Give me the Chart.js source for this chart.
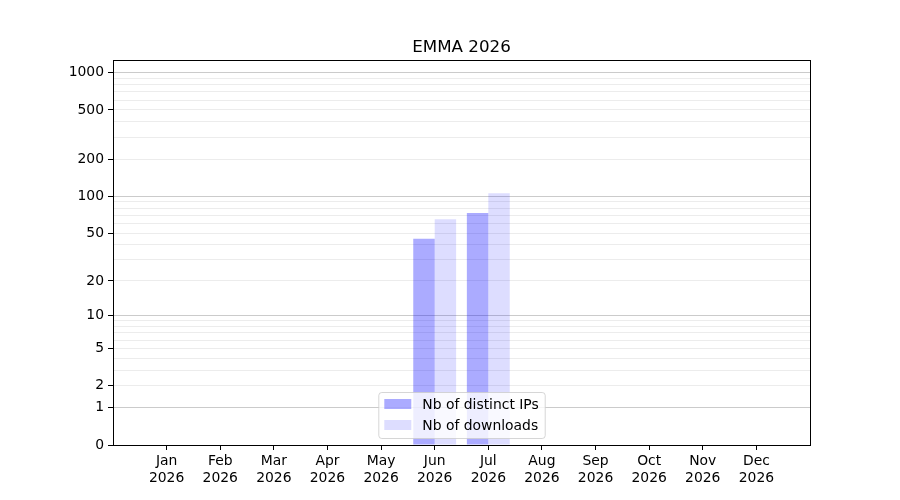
<!DOCTYPE html>
<html>
<head>
<meta charset="utf-8">
<script src="https://cdn.jsdelivr.net/npm/chart.js@4"></script>
<style>
  html, body { margin: 0; padding: 0; background: #fff; }
  #wrap { width: 900px; height: 500px; }
</style>
</head>
<body>
<div id="wrap"><canvas id="myChart" width="900" height="500"></canvas></div>
<script>
const chartTitle = "EMMA 2026";
const months = ["Jan", "Feb", "Mar", "Apr", "May", "Jun", "Jul", "Aug", "Sep", "Oct", "Nov", "Dec"];
const yearLabel = "2026";
const distinctIPs = [0, 0, 0, 0, 0, 45, 73, 0, 0, 0, 0, 0];
const downloads = [0, 0, 0, 0, 0, 65, 106, 0, 0, 0, 0, 0];
const seriesNames = ["Nb of distinct IPs", "Nb of downloads"];
const seriesColors = ["rgba(0, 0, 255, 0.33)", "rgba(0, 0, 255, 0.135)"];
const labeledTicks = [0, 1, 2, 5, 10, 20, 50, 100, 200, 500, 1000];
const decadeTicks = [1, 10, 100, 1000];
const minorTicks = [3, 4, 6, 7, 8, 9, 30, 40, 60, 70, 80, 90, 300, 400, 600, 700, 800, 900];
const yTop = 1265;

const FONT = "'DejaVu Sans', sans-serif";
// y axis works like matplotlib's log(1 + n) scale
const tr = (v) => Math.log10(1 + v);
const allYTicks = [...labeledTicks, ...minorTicks].sort((a, b) => a - b);

const toPoints = (arr) => arr.map((v, i) => ({ x: i, y: tr(v) }));

const frameAndLegend = {
  id: "frameAndLegend",
  afterDraw(chart) {
    const ctx = chart.ctx;
    const a = chart.chartArea;
    ctx.save();
    // axes box
    ctx.strokeStyle = "#000";
    ctx.lineWidth = 1;
    ctx.strokeRect(Math.round(a.left) + 0.5, Math.round(a.top) + 0.5,
      Math.round(a.right - a.left), Math.round(a.bottom - a.top));

    // title
    ctx.fillStyle = "#000";
    ctx.font = "16.7px " + FONT;
    ctx.textAlign = "center";
    ctx.textBaseline = "alphabetic";
    ctx.fillText(chartTitle, (a.left + a.right) / 2, a.top - 8.5);

    // legend, lower centre inside the axes
    ctx.font = "13.9px " + FONT;
    const widths = seriesNames.map((s) => ctx.measureText(s).width);
    const boxW = 44 + Math.max(...widths) + 6;
    const boxH = 46;
    const bx = (a.left + a.right) / 2 - boxW / 2;
    const by = a.bottom - 7 - boxH;
    ctx.beginPath();
    ctx.roundRect(bx + 0.5, by + 0.5, boxW, boxH, 3);
    ctx.fillStyle = "rgba(255,255,255,0.8)";
    ctx.fill();
    ctx.strokeStyle = "rgba(204,204,204,0.8)";
    ctx.stroke();
    chart.data.datasets.forEach((ds, i) => {
      const cy = by + 12 + i * 21;
      ctx.fillStyle = ds.backgroundColor;
      ctx.fillRect(bx + 6, cy - 5, 27, 10);
      ctx.fillStyle = "#000";
      ctx.textAlign = "left";
      ctx.textBaseline = "middle";
      ctx.fillText(ds.label, bx + 44, cy + 1);
    });
    ctx.restore();
  },
};

const myChart = new Chart(document.getElementById("myChart"), {
  type: "bar",
  data: {
    datasets: [
      {
        label: seriesNames[0],
        data: toPoints(distinctIPs),
        backgroundColor: seriesColors[0],
        borderWidth: 0,
      },
      {
        label: seriesNames[1],
        data: toPoints(downloads),
        backgroundColor: seriesColors[1],
        borderWidth: 0,
      },
    ],
  },
  options: {
    responsive: false,
    animation: false,
    devicePixelRatio: 1,
    layout: { padding: { top: 60, right: 90, left: 0, bottom: 0 } },
    datasets: { bar: { categoryPercentage: 0.8, barPercentage: 1.0 } },
    plugins: {
      legend: { display: false },
      title: { display: false },
      tooltip: { enabled: false },
    },
    scales: {
      x: {
        type: "linear",
        min: -1,
        max: 12,
        offset: false,
        afterBuildTicks: (scale) => {
          const t = [];
          for (let i = -1; i <= 12; i++) t.push({ value: i });
          scale.ticks = t;
        },
        afterFit: (scale) => { scale.height = 55; },
        ticks: {
          autoSkip: false,
          maxRotation: 0,
          minRotation: 0,
          padding: 3,
          color: "#000",
          font: { family: FONT, size: 13.9, lineHeight: 1.2 },
          callback: (v) => (v >= 0 && v <= 11 ? [months[v], yearLabel] : ""),
        },
        grid: {
          offset: false,
          drawOnChartArea: false,
          drawTicks: true,
          tickLength: 5,
          tickColor: (c) => (c.tick && c.tick.value >= 0 && c.tick.value <= 11 ? "#000" : "rgba(0,0,0,0)"),
        },
        border: { color: "#000" },
      },
      y: {
        type: "linear",
        min: 0,
        max: tr(yTop),
        afterBuildTicks: (scale) => {
          scale.ticks = allYTicks.map((v) => ({ value: tr(v) }));
        },
        afterFit: (scale) => { scale.width = 113; },
        ticks: {
          autoSkip: false,
          padding: 4,
          color: "#000",
          font: { family: FONT, size: 13.9 },
          callback: (value, index) => {
            const n = allYTicks[index];
            return labeledTicks.includes(n) ? String(n) : "";
          },
        },
        grid: {
          drawTicks: true,
          tickLength: 5,
          color: (c) => {
            const n = allYTicks[c.index];
            if (n === 0) return "rgba(0,0,0,0)";
            return decadeTicks.includes(n) ? "#cbcbcb" : "#ececec";
          },
          tickColor: (c) => (labeledTicks.includes(allYTicks[c.index]) ? "#000" : "rgba(0,0,0,0)"),
        },
        border: { color: "#000" },
      },
    },
  },
  plugins: [frameAndLegend],
});
</script>
</body>
</html>
